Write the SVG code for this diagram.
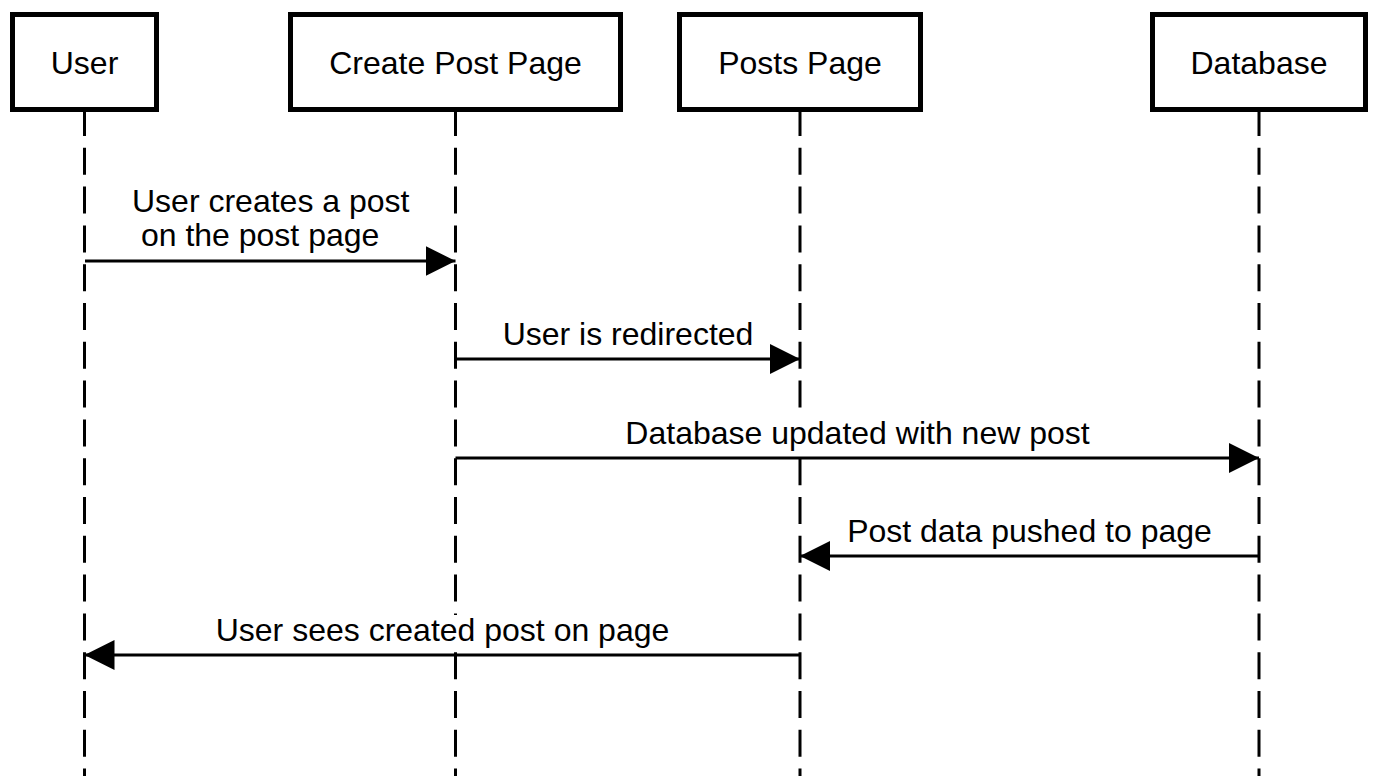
<svg xmlns="http://www.w3.org/2000/svg" width="1380" height="776" viewBox="0 0 1380 776">
  <style>
    .box { fill: #ffffff; stroke: #000000; stroke-width: 5; }
    .life { stroke: #000000; stroke-width: 3; stroke-dasharray: 27 11.8; fill: none; }
    .msg { stroke: #000000; stroke-width: 3; fill: none; }
    .bg { fill: #ffffff; stroke: none; }
    .lbl { font-family: "Liberation Sans", Arial, sans-serif; font-size: 32px; fill: #000000; }
    .mid { text-anchor: middle; }
  </style>
  <defs>
    <marker id="arrow" markerUnits="userSpaceOnUse" markerWidth="30" markerHeight="30" viewBox="0 0 28 28" refX="28" refY="14" orient="auto">
      <path d="M0,0 L28,14 L0,28 Z" fill="#000000"/>
    </marker>
  </defs>
  <rect width="1380" height="776" fill="#ffffff"/>

  <g id="lifelines">
    <line class="life" x1="84.5" y1="109" x2="84.5" y2="776"/>
    <line class="life" x1="455.5" y1="109" x2="455.5" y2="776"/>
    <line class="life" x1="800" y1="109" x2="800" y2="776"/>
    <line class="life" x1="1259" y1="109" x2="1259" y2="776"/>
  </g>

  <g id="connectors">
    <line class="msg" x1="85" y1="261" x2="455.5" y2="261" marker-end="url(#arrow)"/>
    <line class="msg" x1="455.5" y1="359" x2="800" y2="359" marker-end="url(#arrow)"/>
    <line class="msg" x1="455.5" y1="458" x2="1259" y2="458" marker-end="url(#arrow)"/>
    <line class="msg" x1="1259" y1="556" x2="800" y2="556" marker-end="url(#arrow)"/>
    <line class="msg" x1="800" y1="655" x2="84.5" y2="655" marker-end="url(#arrow)"/>
    <rect class="bg" x="622" y="418" width="471" height="35"/>
    <rect class="bg" x="212" y="615" width="461" height="35"/>
    <text class="lbl" x="132" y="212">User creates a post</text>
    <text class="lbl" x="132" y="246" xml:space="preserve"> on the post page</text>
    <text class="lbl mid" x="628" y="345">User is redirected</text>
    <text class="lbl mid" x="857.5" y="444">Database updated with new post</text>
    <text class="lbl mid" x="1029.5" y="542">Post data pushed to page</text>
    <text class="lbl mid" x="442.5" y="641">User sees created post on page</text>
  </g>

  <g id="user">
    <rect class="box" x="12.5" y="14.5" width="144" height="95"/>
    <text class="lbl mid" x="84.5" y="74">User</text>
  </g>
  <g id="create-post-page">
    <rect class="box" x="290.5" y="14.5" width="330" height="95"/>
    <text class="lbl mid" x="455.5" y="74">Create Post Page</text>
  </g>
  <g id="posts-page">
    <rect class="box" x="679.5" y="14.5" width="241" height="95"/>
    <text class="lbl mid" x="800" y="74">Posts Page</text>
  </g>
  <g id="database">
    <rect class="box" x="1152.5" y="14.5" width="213" height="95"/>
    <text class="lbl mid" x="1259" y="74">Database</text>
  </g>
</svg>
